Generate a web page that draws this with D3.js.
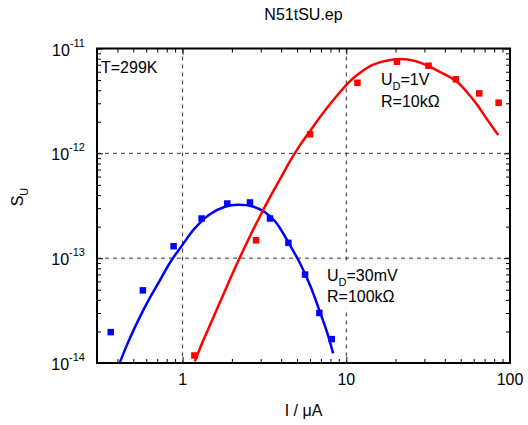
<!DOCTYPE html>
<html>
<head>
<meta charset="utf-8">
<script src="https://cdn.jsdelivr.net/npm/d3@7"></script>
<style>
  body { margin: 0; background: #fff; }
  text { font-family: "Liberation Sans", Arial, sans-serif; fill: #000; }
</style>
</head>
<body>
<div id="chart"></div>
<script>
// measured points, I in uA, S_U
const blueI = [0.364, 0.572, 0.881, 1.307, 1.875, 2.58, 3.42, 4.43, 5.60, 6.85, 8.15];
const blueS = [1.97e-14, 4.93e-14, 1.30e-13, 2.39e-13, 3.32e-13, 3.40e-13, 2.39e-13, 1.40e-13, 6.97e-14, 3.0e-14, 1.69e-14];
const redI = [1.18, 2.81, 6.01, 11.7, 20.4, 31.8, 46.7, 64.9, 85.2];
const redS = [1.18e-14, 1.48e-13, 1.52e-12, 4.71e-12, 7.48e-12, 6.85e-12, 5.08e-12, 3.73e-12, 3.04e-12];

// fitted curves
const blueFitI = [0.414, 0.456, 0.511, 0.605, 0.727, 0.848, 1.004, 1.189, 1.469, 1.814, 2.179, 2.654, 3.187, 3.668, 3.937, 4.532, 5.217, 6.006, 6.916, 7.633, 8.306];
const blueFitS = [1.013e-14, 1.473e-14, 2.188e-14, 3.709e-14, 6.151e-14, 9.34e-14, 1.358e-13, 1.931e-13, 2.627e-13, 3.097e-13, 3.236e-13, 3.131e-13, 2.745e-13, 2.251e-13, 1.931e-13, 1.328e-13, 8.94e-14, 5.51e-14, 3.043e-14, 1.96e-14, 1.235e-14];
const redFitI = [1.189, 1.276, 1.469, 1.691, 1.947, 2.241, 2.58, 2.97, 3.42, 3.937, 4.532, 5.217, 6.006, 6.916, 7.96, 9.165, 10.11, 11.64, 13.98, 17.28, 21.34, 26.35, 31.64, 37.48, 47.61, 57.18, 63.1, 73.7, 84.8];
const redFitS = [1.036e-14, 1.378e-14, 2.286e-14, 3.792e-14, 6.289e-14, 1.02e-13, 1.619e-13, 2.513e-13, 3.817e-13, 5.671e-13, 8.424e-13, 1.198e-12, 1.629e-12, 2.217e-12, 2.95e-12, 3.842e-12, 4.582e-12, 5.583e-12, 6.806e-12, 7.6e-12, 7.941e-12, 7.6e-12, 6.806e-12, 5.964e-12, 4.786e-12, 3.518e-12, 2.886e-12, 2.03e-12, 1.492e-12];

const xTicks = [1, 10, 100];
const xTickLabels = ["1", "10", "100"];
const yTicks = [1e-14, 1e-13, 1e-12, 1e-11];
const yTickExp = ["-14", "-13", "-12", "-11"];
const xGrid = [1, 10];
const yGrid = [1e-13, 1e-12];

const W = 528, H = 425;
const margin = {top: 48.5, right: 18, bottom: 62, left: 97};
const width = W - margin.left - margin.right,
      height = H - margin.top - margin.bottom;

const svg = d3.select("#chart").append("svg")
    .attr("width", W).attr("height", H);

const g = svg.append("g")
    .attr("transform", "translate(" + margin.left + "," + margin.top + ")");

const x = d3.scaleLog().domain([0.3, 100]).range([0, width]);
const y = d3.scaleLog().domain([1e-14, 1e-11]).range([height, 0]);

// minor tick values
const xMinor = [];
[0.1, 1, 10].forEach(function(b) {
  for (let k = 2; k <= 9; k++) { const v = b * k; if (v >= 0.3 && v <= 100) xMinor.push(v); }
});
const yMinor = [];
[1e-14, 1e-13, 1e-12].forEach(function(b) {
  for (let k = 2; k <= 9; k++) yMinor.push(b * k);
});

// grid
g.selectAll(".xgrid").data(xGrid).enter().append("line")
    .attr("x1", d => x(d)).attr("x2", d => x(d))
    .attr("y1", 0).attr("y2", height)
    .attr("stroke", "#333").attr("stroke-width", 1).attr("stroke-dasharray", "4,4");
g.selectAll(".ygrid").data(yGrid).enter().append("line")
    .attr("y1", d => y(d)).attr("y2", d => y(d))
    .attr("x1", 0).attr("x2", width)
    .attr("stroke", "#333").attr("stroke-width", 1).attr("stroke-dasharray", "4,4");

// ticks on all four sides, pointing inward
function tickAxis(axis, tx, ty) {
  const a = g.append("g").attr("transform", "translate(" + tx + "," + ty + ")").call(axis);
  a.select(".domain").remove();
  a.selectAll("text").remove();
  a.selectAll("line").attr("stroke", "#000").attr("stroke-width", 1);
  return a;
}
tickAxis(d3.axisBottom(x).tickValues(xMinor).tickSize(-4), 0, height);
tickAxis(d3.axisTop(x).tickValues(xMinor).tickSize(-4), 0, 0);
tickAxis(d3.axisBottom(x).tickValues(xTicks).tickSize(-6), 0, height);
tickAxis(d3.axisTop(x).tickValues(xTicks).tickSize(-6), 0, 0);
tickAxis(d3.axisLeft(y).tickValues(yMinor).tickSize(-4), 0, 0);
tickAxis(d3.axisRight(y).tickValues(yMinor).tickSize(-4), width, 0);
tickAxis(d3.axisLeft(y).tickValues(yTicks).tickSize(-6), 0, 0);
tickAxis(d3.axisRight(y).tickValues(yTicks).tickSize(-6), width, 0);

// tick labels
g.selectAll(".xlab").data(xTicks).enter().append("text")
    .attr("x", d => x(d)).attr("y", height + 22)
    .attr("text-anchor", "middle").style("font-size", "16px")
    .text((d, i) => xTickLabels[i]);

const yl = g.selectAll(".ylab").data(yTicks).enter().append("text")
    .attr("x", -12).attr("y", d => y(d) + 7)
    .attr("text-anchor", "end").style("font-size", "16px");
yl.append("tspan").text("10");
yl.append("tspan").attr("dy", -9).style("font-size", "11px").text((d, i) => yTickExp[i]);

// clip for curves
svg.append("defs").append("clipPath").attr("id", "clip")
  .append("rect").attr("width", width).attr("height", height);

const line = d3.line().x(d => x(d[0])).y(d => y(d[1])).curve(d3.curveCatmullRom);

const curves = g.append("g").attr("clip-path", "url(#clip)");
curves.append("path")
    .datum(blueFitI.map((v, i) => [v, blueFitS[i]]))
    .attr("d", line).attr("fill", "none").attr("stroke", "#0000ff").attr("stroke-width", 2.5);
curves.append("path")
    .datum(redFitI.map((v, i) => [v, redFitS[i]]))
    .attr("d", line).attr("fill", "none").attr("stroke", "#ff0000").attr("stroke-width", 2.5);

const sq = 6.5;
g.selectAll(".bpt").data(blueI).enter().append("rect")
    .attr("x", d => x(d) - sq / 2).attr("y", (d, i) => y(blueS[i]) - sq / 2)
    .attr("width", sq).attr("height", sq).attr("fill", "#0000ff");
g.selectAll(".rpt").data(redI).enter().append("rect")
    .attr("x", d => x(d) - sq / 2).attr("y", (d, i) => y(redS[i]) - sq / 2)
    .attr("width", sq).attr("height", sq).attr("fill", "#ff0000");

// annotations
g.append("text").attr("x", 4).attr("y", 24.5).style("font-size", "16px").text("T=299K");

function label(px, py, sub, rest, r) {
  const t = g.append("text").attr("x", px).attr("y", py).style("font-size", "16px");
  t.append("tspan").text("U");
  t.append("tspan").attr("dy", 5).style("font-size", "11px").text(sub);
  t.append("tspan").attr("dy", -5).text(rest);
  g.append("text").attr("x", px).attr("y", py + 21.5).style("font-size", "16px").text(r);
}
// white box behind lower label covers the gridline
g.append("rect").attr("x", 228).attr("y", 214).attr("width", 74).attr("height", 46).attr("fill", "#fff");
label(230, 232, "D", "=30mV", "R=100k\u03A9");
label(284, 36.5, "D", "=1V", "R=10k\u03A9");

// frame
g.append("rect").attr("width", width).attr("height", height)
    .attr("fill", "none").attr("stroke", "#000").attr("stroke-width", 2);

// titles
svg.append("text").attr("x", margin.left + width / 2).attr("y", 20)
    .attr("text-anchor", "middle").style("font-size", "16px").text("N51tSU.ep");
svg.append("text").attr("x", margin.left + width / 2).attr("y", 416)
    .attr("text-anchor", "middle").style("font-size", "16px").text("I / \u03BCA");
const ylab = svg.append("text").attr("transform", "translate(23,197) rotate(-90)")
    .attr("text-anchor", "middle").style("font-size", "16px");
ylab.append("tspan").text("S");
ylab.append("tspan").attr("dy", 5).style("font-size", "11px").text("U");
</script>
</body>
</html>
